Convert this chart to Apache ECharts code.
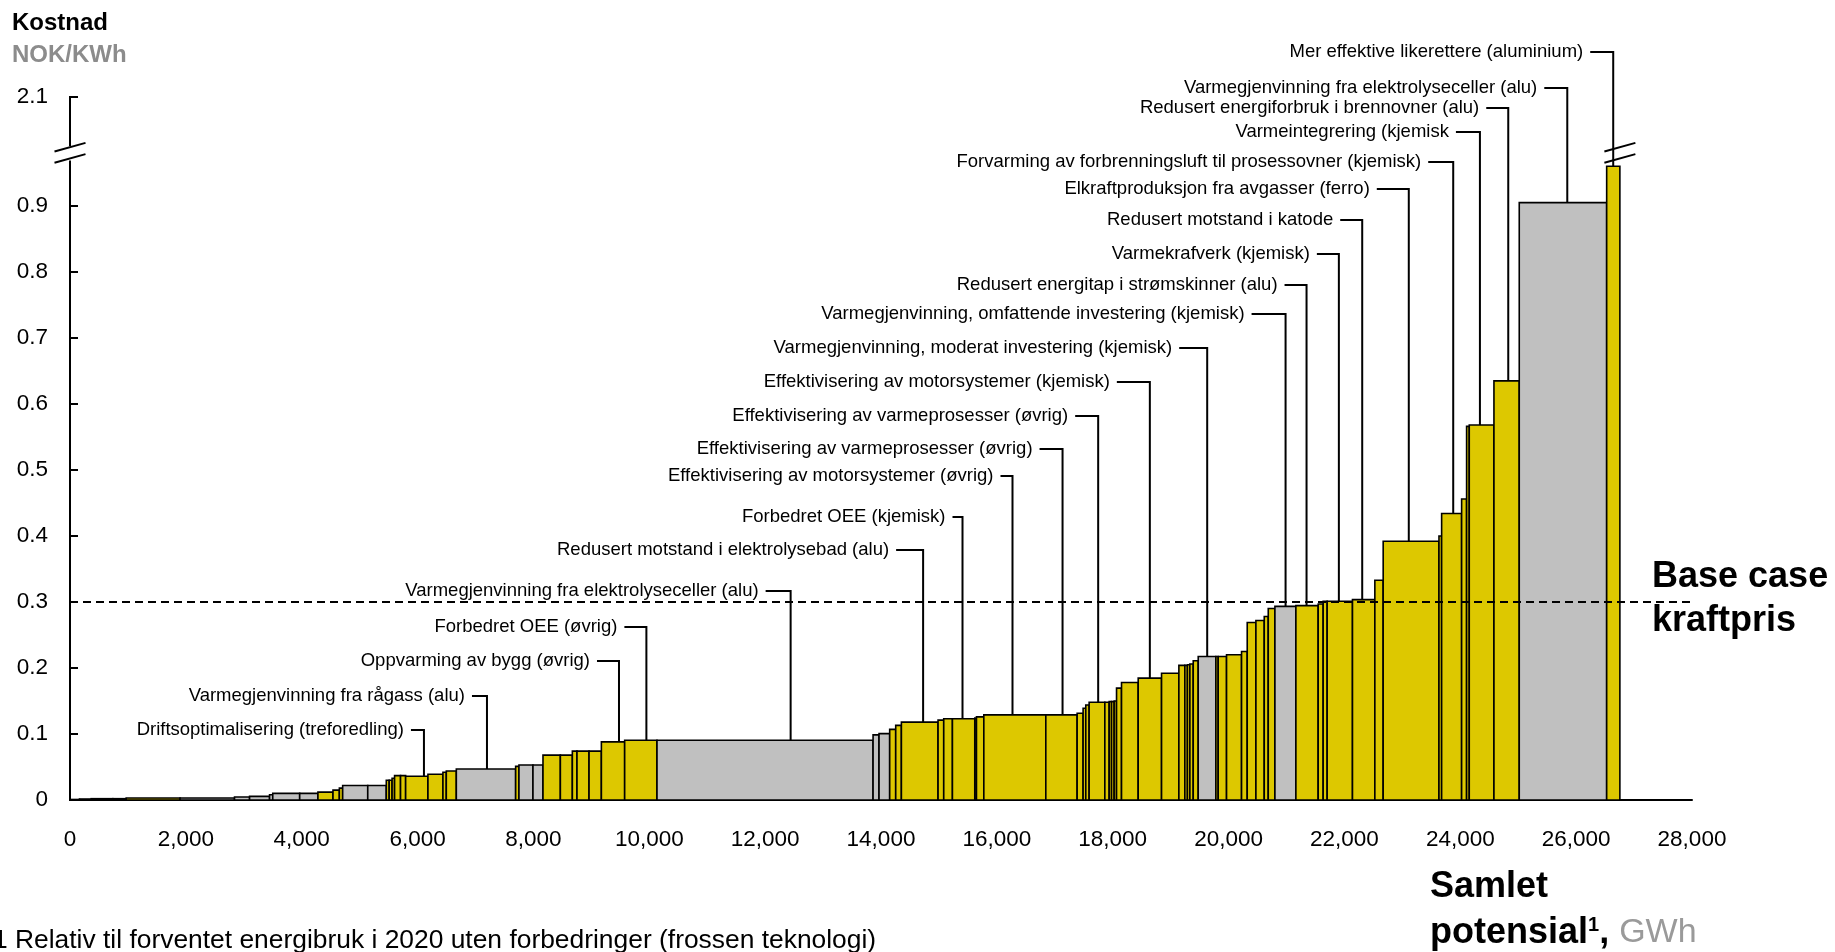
<!DOCTYPE html>
<html><head><meta charset="utf-8">
<script src="https://cdn.jsdelivr.net/npm/echarts@6/dist/echarts.min.js"></script>
<style>html,body{margin:0;padding:0;background:#fff;overflow:hidden}#c{width:1835px;height:952px}</style>
</head><body><div id="c"></div>
<script>
// ---------------- DATA ----------------
// Potential per measure (GWh), in curve order
const barWidths = [164, 202, 374, 230, 930, 940, 260, 345, 55, 465, 315, 260, 110, 57, 433, 320,
  50, 50, 43, 103, 88, 385, 259, 58, 173, 1024, 57, 242, 173, 300, 207, 80, 208, 213, 402, 558,
  3730, 103, 184, 104, 98, 633, 98, 150, 386, 29, 127, 1070, 541, 103, 46, 58, 271, 75, 41, 45,
  41, 86, 288, 403, 299, 103, 45, 42, 58, 86, 305, 40, 144, 259, 98, 150, 144, 69, 115, 362, 385,
  86, 69, 437, 386, 144, 963, 46, 345, 86, 46, 426, 437, 1509, 228];
// Cost per measure (NOK/kWh)
const barCosts = [0.0008, 0.0015, 0.002, 0.002, 0.003, 0.003, 0.0045, 0.0055, 0.008, 0.010, 0.010,
  0.012, 0.015, 0.018, 0.022, 0.022, 0.030, 0.030, 0.033, 0.037, 0.037, 0.036, 0.039, 0.042, 0.044,
  0.047, 0.051, 0.053, 0.053, 0.068, 0.068, 0.074, 0.074, 0.074, 0.088, 0.0905, 0.0905, 0.0986,
  0.1006, 0.107, 0.113, 0.118, 0.121, 0.123, 0.123, 0.124, 0.126, 0.129, 0.129, 0.1315, 0.139,
  0.144, 0.148, 0.148, 0.149, 0.149, 0.150, 0.1695, 0.178, 0.1846, 0.192, 0.204, 0.204, 0.205,
  0.206, 0.211, 0.2175, 0.2175, 0.2175, 0.220, 0.225, 0.269, 0.272, 0.278, 0.290, 0.2934, 0.2944,
  0.297, 0.301, 0.301, 0.3035, 0.333, 0.392, 0.400, 0.434, 0.456, 0.566, 0.568, 0.635, 0.905, 2.1];
// y = yellow measure, g = grey measure (same order as above)
const barKinds = [
  'g','y','g','y','y','g','g','g','g','g','g',          // 1-11
  'y','y','y','g','g',                                  // 12-16
  'y','y','y','y','y','y','y','y','y','g',              // 17-26
  'y','g','g','y','y','y','y','y','y','y',              // 27-36
  'g','g','g',                                          // 37-39
  'y','y','y','y','y','y','y','y','y','y',              // 40-49
  'y','y','y','y','y','y','y','y','y','y',              // 50-59
  'y','y','y','y','y','y','y','g','y','y',              // 60-69
  'y','y','y','y','y','y','g','y','y','y',              // 70-79
  'y','y','y','y','y','y','y','y','y','y',              // 80-89
  'g','y'                                               // 90-91
];

const leaderTexts = [
  'Driftsoptimalisering (treforedling)',
  'Varmegjenvinning fra rågass (alu)',
  'Oppvarming av bygg (øvrig)',
  'Forbedret OEE (øvrig)',
  'Varmegjenvinning fra elektrolyseceller (alu)',
  'Redusert motstand i elektrolysebad (alu)',
  'Forbedret OEE (kjemisk)',
  'Effektivisering av motorsystemer (øvrig)',
  'Effektivisering av varmeprosesser (øvrig)',
  'Effektivisering av varmeprosesser (øvrig)',
  'Effektivisering av motorsystemer (kjemisk)',
  'Varmegjenvinning, moderat investering (kjemisk)',
  'Varmegjenvinning, omfattende investering (kjemisk)',
  'Redusert energitap i strømskinner (alu)',
  'Varmekrafverk (kjemisk)',
  'Redusert motstand i katode',
  'Elkraftproduksjon fra avgasser (ferro)',
  'Forvarming av forbrenningsluft til prosessovner (kjemisk)',
  'Varmeintegrering (kjemisk',
  'Redusert energiforbruk i brennovner (alu)',
  'Varmegjenvinning fra elektrolyseceller (alu)',
  'Mer effektive likerettere (aluminium)'
];
// cumulative GWh where each callout points
const leaderGWh = [6110, 7198, 9477, 9950, 12440, 14727, 15407, 16270, 17134, 17749, 18641, 19631,
  20984, 21346, 21904, 22307, 23111, 23878, 24339, 24828, 25847, 26640];

const xTickStep = 2000, xMax = 28000;
const yTicks = [0, 0.1, 0.2, 0.3, 0.4, 0.5, 0.6, 0.7, 0.8, 0.9];
const yTopLabel = '2.1';
const baseCasePrice = 0.3;

// ---------------- LAYOUT / STYLE ----------------
const leaderLabelY = [730, 696, 661, 627, 591, 550, 517, 476, 449, 416, 382, 348, 314, 285, 254, 220, 189, 162, 132, 108, 88, 52];
const leaderArm = [13, 15, 22, 22, 25, 27, 10, 12, 23, 23, 33, 28, 34, 22, 22, 22, 32, 25, 24, 22, 23, 23];
const Y_AXIS_TOP = 1.065;   // axis position carrying the top (post-break) label
const BAR_CAP = 0.96;       // drawn height of bars beyond the break
const BREAK_LOW = 0.972, BREAK_HIGH = 0.989;
const YELLOW = '#DDC800', GREY = '#C0C0C0';
const FONT = '"Liberation Sans", Arial, Helvetica, sans-serif';

function shown(v) { return v > 1 ? BAR_CAP : v; }

const starts = []; let acc = 0;
barWidths.forEach(w => { starts.push(acc); acc += w; });
const barData = barWidths.map((w, i) => [starts[i], starts[i] + w, barCosts[i], barKinds[i] === 'g' ? 1 : 0]);

function costAt(x) {
  for (let i = 0; i < barData.length; i++) if (x >= barData[i][0] && x < barData[i][1]) return barData[i][2];
  return 0;
}
const leaderData = leaderGWh.map((x, i) => [x, shown(costAt(x)), i]);

function slash(cx, cy) {
  return { type: 'line', shape: { x1: cx - 15.5, y1: cy + 4.3, x2: cx + 15.5, y2: cy - 4.3 },
    style: { stroke: '#000', lineWidth: 2 } };
}

const chart = echarts.init(document.getElementById('c'), null, { renderer: 'canvas' });
chart.setOption({
  animation: false,
  backgroundColor: '#fff',
  grid: { left: 70, right: 143, top: 97, bottom: 152, containLabel: false },
  xAxis: {
    type: 'value', min: 0, max: xMax, interval: xTickStep,
    axisLine: { show: true, lineStyle: { color: '#000', width: 2 } },
    axisTick: { show: false }, splitLine: { show: false },
    axisLabel: { color: '#000', fontSize: 22.5, fontFamily: FONT, margin: 28,
      formatter: v => v.toLocaleString('en-US') }
  },
  yAxis: {
    type: 'value', min: 0, max: Y_AXIS_TOP,
    axisLine: { show: false },
    splitLine: { show: false },
    axisTick: { show: true, inside: true, length: 8, lineStyle: { color: '#000', width: 2 },
      customValues: yTicks.concat([Y_AXIS_TOP]) },
    axisLabel: { color: '#000', fontSize: 22.5, fontFamily: FONT, margin: 22,
      customValues: yTicks.concat([Y_AXIS_TOP]),
      formatter: v => v > 1 ? yTopLabel : (v === 0 ? '0' : (+v).toFixed(1)) }
  },
  graphic: [
    { type: 'text', x: 12, y: 23, style: { text: 'Kostnad', fill: '#000', font: 'bold 24px ' + FONT, verticalAlign: 'middle' } },
    { type: 'text', x: 12, y: 55, style: { text: 'NOK/KWh', fill: '#8c8c8c', font: 'bold 24px ' + FONT, verticalAlign: 'middle' } },
    { type: 'text', x: 1652, y: 577, style: { text: 'Base case', fill: '#000', font: 'bold 36px ' + FONT, verticalAlign: 'middle' } },
    { type: 'text', x: 1652, y: 621, style: { text: 'kraftpris', fill: '#000', font: 'bold 36px ' + FONT, verticalAlign: 'middle' } },
    { type: 'text', x: 1430, y: 887, style: { text: 'Samlet', fill: '#000', font: 'bold 36px ' + FONT, verticalAlign: 'middle' } },
    { type: 'text', x: 1430, y: 933, style: {
        text: '{b|potensial}{s|1}{b|, }{g|GWh}', verticalAlign: 'middle',
        rich: {
          b: { fontSize: 36, fontWeight: 'bold', fontFamily: FONT, fill: '#000', color: '#000' },
          s: { fontSize: 20, fontWeight: 'bold', fontFamily: FONT, fill: '#000', color: '#000', padding: [0, 0, 16, 0] },
          g: { fontSize: 34, fontFamily: FONT, fill: '#9a9a9a', color: '#9a9a9a' }
        } } },
    { type: 'text', x: -7, y: 941, style: { text: '1 Relativ til forventet energibruk i 2020 uten forbedringer (frossen teknologi)',
        fill: '#000', font: '26.4px ' + FONT, verticalAlign: 'middle' } }
  ],
  series: [
    {
      type: 'custom', name: 'measures', data: barData, encode: { x: [0, 1], y: 2 },
      renderItem(params, api) {
        const x0 = api.value(0), x1 = api.value(1), v = api.value(2), k = api.value(3);
        const p0 = api.coord([x0, 0]), p1 = api.coord([x1, shown(v)]);
        return { type: 'rect', shape: { x: p0[0], y: p1[1], width: p1[0] - p0[0], height: p0[1] - p1[1] },
          style: { fill: k ? GREY : YELLOW, stroke: '#000', lineWidth: 1.6 } };
      }
    },
    {
      type: 'custom', name: 'frame', data: [[0, 0]], encode: { x: 0, y: 1 }, z: 5,
      renderItem(params, api) {
        const a0 = api.coord([0, 0]), aLo = api.coord([0, BREAK_LOW]), aHi = api.coord([0, BREAK_HIGH]), aTop = api.coord([0, Y_AXIS_TOP]);
        const d0 = api.coord([0, baseCasePrice]), d1 = api.coord([xMax, baseCasePrice]);
        const kids = [
          { type: 'line', shape: { x1: d0[0], y1: d0[1], x2: d1[0], y2: d1[1] }, style: { stroke: '#000', lineWidth: 2, lineDash: [8, 5] } },
          { type: 'line', shape: { x1: a0[0], y1: a0[1] + 1, x2: aLo[0], y2: aLo[1] + 2 }, style: { stroke: '#000', lineWidth: 2 } },
          { type: 'line', shape: { x1: aHi[0], y1: aHi[1] - 1, x2: aTop[0], y2: aTop[1] - 1 }, style: { stroke: '#000', lineWidth: 2 } },
          slash(a0[0], aLo[1]), slash(a0[0], aHi[1])
        ];
        barData.forEach(b => {
          if (b[2] > 1) {
            const r = api.coord([b[1], BREAK_LOW]), r2 = api.coord([b[1], BREAK_HIGH]);
            kids.push(slash(r[0], r[1]), slash(r2[0], r2[1]));
          }
        });
        return { type: 'group', children: kids };
      }
    },
    {
      type: 'custom', name: 'callouts', data: leaderData, encode: { x: 0, y: 1 }, z: 4,
      renderItem(params, api) {
        const i = api.value(2);
        const p = api.coord([api.value(0), api.value(1)]);
        const ly = leaderLabelY[i], arm = leaderArm[i];
        return { type: 'group', children: [
          { type: 'polyline', shape: { points: [[p[0] - arm, ly], [p[0], ly], [p[0], p[1]]] },
            style: { stroke: '#000', lineWidth: 2, fill: null } },
          { type: 'text', x: p[0] - arm - 7, y: ly,
            style: { text: leaderTexts[i], fill: '#000', font: '18.5px ' + FONT, align: 'right', verticalAlign: 'middle' } }
        ] };
      }
    }
  ]
});
</script></body></html>
